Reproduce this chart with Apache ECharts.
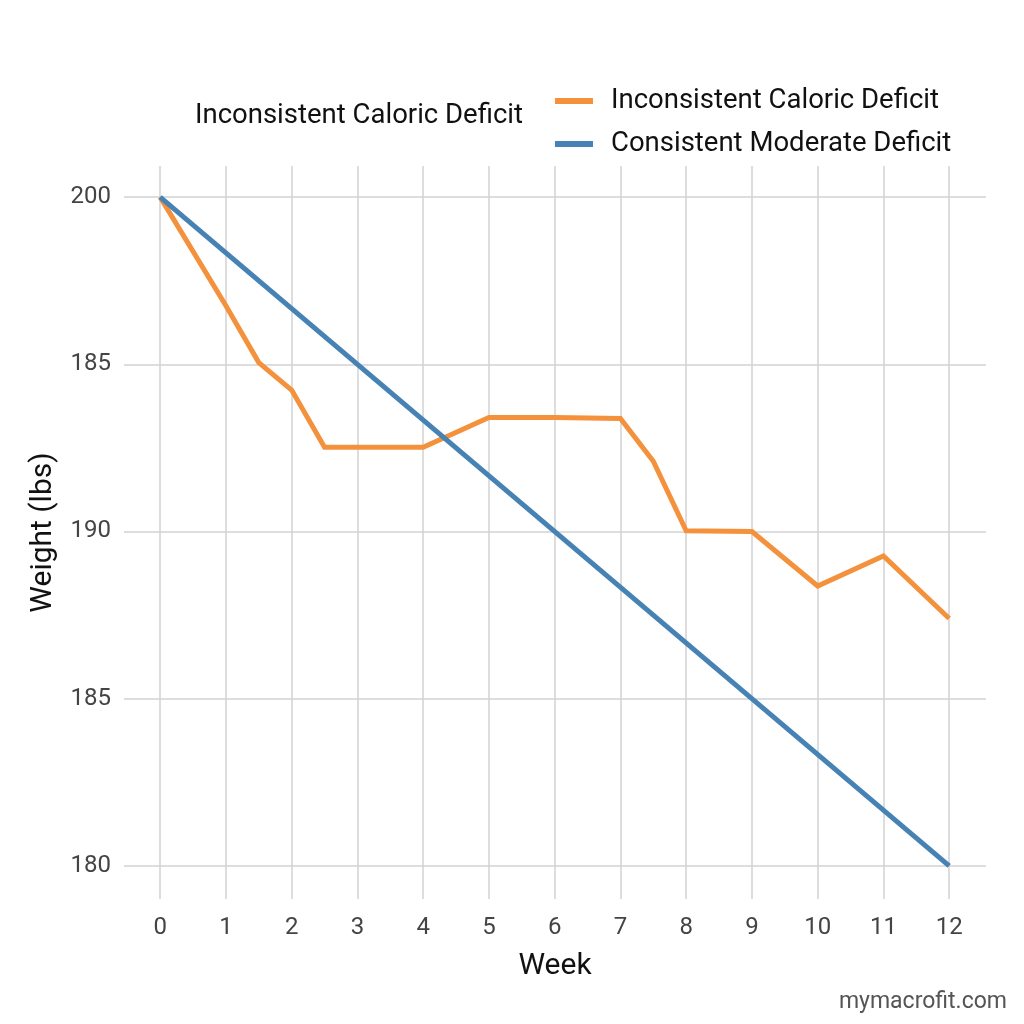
<!DOCTYPE html>
<html>
<head>
<meta charset="utf-8">
<title>Weight loss chart</title>
<script src="https://cdn.jsdelivr.net/npm/echarts@6/dist/echarts.min.js"></script>
<style>
  html, body { margin: 0; padding: 0; background: #fff; }
  #main { width: 1024px; height: 1024px; }
</style>
</head>
<body>
<div id="main"></div>
<script>
// weeks on x axis
const weekTicks = [0, 1, 2, 3, 4, 5, 6, 7, 8, 9, 10, 11, 12]
// y ticks and the labels as printed on the original
const weightTicks = [180, 185, 190, 195, 200]
const weightTickLabels = ['180', '185', '190', '185', '200']

// Inconsistent Caloric Deficit
const inconsistentWeeks = [0, 1, 1.5, 2, 2.5, 4, 5, 6, 7, 7.5, 8, 9, 10, 11, 12]
const inconsistentWeight = [200, 196.75, 195.05, 194.23, 192.52, 192.52, 193.41, 193.41, 193.38, 192.1, 190.02, 190.0, 188.37, 189.27, 187.4]

// Consistent Moderate Deficit
const consistentWeeks = [0, 12]
const consistentWeight = [200, 180]

const FONT = 'Roboto'

function pairs (xs, ys) {
  return xs.map((x, i) => [x, ys[i]])
}

let myChart = echarts.init(document.getElementById('main'))
myChart.setOption({
  backgroundColor: '#ffffff',
  animation: false,
  textStyle: { fontFamily: FONT },
  title: {
    text: 'Inconsistent Caloric Deficit',
    left: 195,
    top: 100,
    padding: 0,
    textStyle: { fontFamily: FONT, fontSize: 27.5, fontWeight: 'normal', color: '#111', lineHeight: 32 }
  },
  legend: {
    orient: 'vertical',
    left: 555,
    top: 86,
    padding: 0,
    itemWidth: 38,
    itemHeight: 6,
    itemGap: 13,
    icon: 'rect',
    data: ['Inconsistent Caloric Deficit', 'Consistent Moderate Deficit'],
    textStyle: { fontFamily: FONT, fontSize: 27.5, color: '#111', lineHeight: 30, padding: [0, 0, 0, 13] }
  },
  grid: {
    left: 124,
    right: 38,
    top: 166,
    bottom: 125,
    containLabel: false
  },
  xAxis: {
    type: 'value',
    min: -0.55,
    max: 12.56,
    name: 'Week',
    nameLocation: 'middle',
    nameGap: 52,
    nameTextStyle: { fontFamily: FONT, fontSize: 30, color: '#111' },
    axisLine: { show: false },
    axisTick: { show: false, customValues: weekTicks },
    axisLabel: {
      customValues: weekTicks,
      margin: 17,
      fontFamily: FONT,
      fontSize: 24,
      color: '#444'
    },
    splitLine: { show: true, lineStyle: { color: '#d2d2d2', width: 1.5 } }
  },
  yAxis: {
    type: 'value',
    min: 179.01,
    max: 200.93,
    name: 'Weight (lbs)',
    nameLocation: 'middle',
    nameGap: 66,
    nameTextStyle: { fontFamily: FONT, fontSize: 30, color: '#111' },
    axisLine: { show: false },
    axisTick: { show: false, customValues: weightTicks },
    axisLabel: {
      customValues: weightTicks,
      margin: 13,
      fontFamily: FONT,
      fontSize: 24,
      color: '#444',
      formatter: function (v) {
        const i = weightTicks.indexOf(Math.round(v))
        return i >= 0 ? weightTickLabels[i] : ''
      }
    },
    splitLine: { show: true, lineStyle: { color: '#d2d2d2', width: 1.5 } }
  },
  color: ['#f4913c', '#4682b4'],
  series: [
    {
      name: 'Inconsistent Caloric Deficit',
      type: 'line',
      symbol: 'none',
      lineStyle: { width: 5, color: '#f4913c', join: 'miter' },
      itemStyle: { color: '#f4913c' },
      data: pairs(inconsistentWeeks, inconsistentWeight)
    },
    {
      name: 'Consistent Moderate Deficit',
      type: 'line',
      symbol: 'none',
      lineStyle: { width: 5, color: '#4682b4' },
      itemStyle: { color: '#4682b4' },
      data: pairs(consistentWeeks, consistentWeight)
    }
  ],
  graphic: [
    {
      type: 'text',
      right: 17,
      bottom: 10,
      style: {
        text: 'mymacrofit.com',
        fontFamily: FONT,
        fontSize: 23,
        fill: '#555'
      }
    }
  ]
})
</script>
</body>
</html>
